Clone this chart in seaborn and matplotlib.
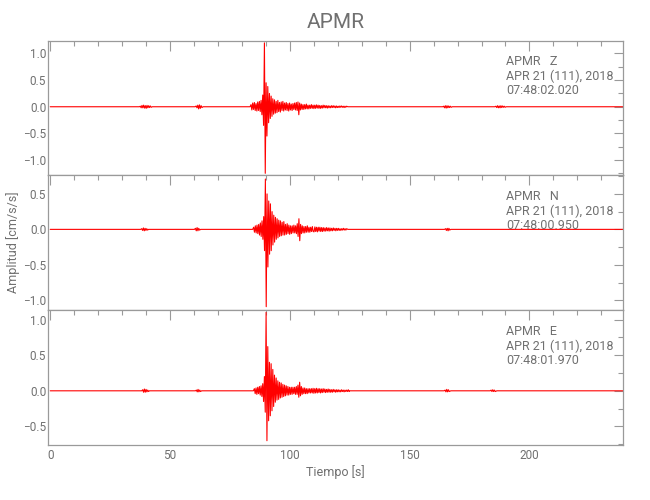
import numpy as np
import pandas as pd
import seaborn as sns
import matplotlib.pyplot as plt
from matplotlib.ticker import MultipleLocator

# Station / component info
STATION = "APMR"
DATE_LABEL = "APR 21 (111), 2018"
components = ["Z", "N", "E"]
start_times = ["07:48:02.020", "07:48:00.950", "07:48:01.970"]
y_limits = [(-1.29, 1.24), (-1.14, 0.76), (-0.76, 1.13)]

# peaks were read every 0.35 s inside each burst
SAMPLE_STEP = 0.35

# ---- Z component ----
z_quiet_t = [0.0, 37.2, 42.6, 60.5, 63.8, 83.4, 124.2, 163.8, 167.8, 185.6, 190.3, 239.5]
z_burst_a = [0.01, -0.02, 0.025, -0.02, 0.03, -0.025, 0.02, -0.03, 0.025, -0.02, 0.02, -0.015, 0.015, -0.01]
z_burst_b = [0.015, -0.02, 0.03, -0.04, 0.035, -0.03, 0.02, -0.015]
z_event = [0.04, -0.06, 0.07, -0.05, 0.08, -0.07, 0.06, -0.08, 0.09, -0.07,
           0.10, -0.09, 0.12, -0.15, 0.22, -0.35, 1.20, -1.25, 0.45, -0.55,
           0.38, -0.30, 0.25, -0.22, 0.20, -0.18, 0.15, -0.14, 0.13, -0.12,
           0.10, -0.11, 0.12, -0.09, 0.08, -0.10, 0.09, -0.07, 0.10, -0.08,
           0.07, -0.06, 0.08, -0.07, 0.06, -0.08, 0.07, -0.06, 0.05, -0.07,
           0.06, -0.05, 0.07, -0.06, 0.08, -0.07, 0.09, -0.15, 0.07, -0.06,
           0.05, -0.05, 0.04, -0.05, 0.04, -0.04, 0.05, -0.04, 0.03, -0.04,
           0.03, -0.03, 0.04, -0.03, 0.03,
           -0.035, 0.03, -0.03, 0.035, -0.025, 0.03, -0.03, 0.025, -0.03, 0.02,
           -0.025, 0.03, -0.02, 0.025, -0.02, 0.02, -0.025, 0.02, -0.02, 0.015,
           -0.02, 0.02, -0.015, 0.02, -0.015, 0.015, -0.02, 0.015, -0.015, 0.01,
           -0.015, 0.015, -0.01, 0.015, -0.01, 0.01, -0.015, 0.01, -0.01, 0.01]
z_burst_c = [0.01, -0.02, 0.02, -0.025, 0.02, -0.02, 0.015, -0.015, 0.01, -0.01]
z_burst_d = [0.01, -0.015, 0.02, -0.02, 0.015, -0.02, 0.02, -0.015, 0.015, -0.01, 0.01, -0.01]
z_segments = [(37.6, z_burst_a), (60.9, z_burst_b), (83.8, z_event),
              (164.2, z_burst_c), (186.0, z_burst_d)]

# ---- N component ----
n_quiet_t = [0.0, 37.8, 41.0, 60.2, 62.8, 84.5, 124.2, 164.6, 167.2, 239.5]
n_burst_a = [0.01, -0.015, 0.02, -0.02, 0.015, -0.015, 0.01, -0.01]
n_burst_b = [0.015, -0.02, 0.025, -0.02, 0.015, -0.01]
n_event = [0.03, -0.04, 0.05, -0.05, 0.06, -0.06, 0.07, -0.08, 0.09, -0.10,
           0.12, -0.14, 0.18, -0.30, 0.71, -1.09, 0.50, -0.53, 0.40, -0.35,
           0.36, -0.30, 0.25, -0.22, 0.20, -0.18, 0.17, -0.14, 0.15, -0.12,
           0.13, -0.10, 0.12, -0.09, 0.10, -0.08, 0.11, -0.08, 0.07, -0.07,
           0.08, -0.06, 0.06, -0.07, 0.05, -0.06, 0.05, -0.05, 0.06, -0.05,
           0.05, -0.06, 0.08, -0.10, 0.15, -0.16, 0.07, -0.06, 0.05, -0.05,
           0.04, -0.05, 0.04, -0.04, 0.05, -0.04, 0.03, -0.04, 0.03, -0.03,
           0.04, -0.03,
           -0.035, 0.035, -0.03, 0.03, -0.035, 0.03, -0.025, 0.03, -0.03, 0.025,
           -0.03, 0.025, -0.025, 0.02, -0.025, 0.025, -0.02, 0.02, -0.025, 0.02,
           -0.02, 0.015, -0.02, 0.02, -0.015, 0.015, -0.02, 0.015, -0.015, 0.015,
           -0.015, 0.01, -0.015, 0.01, -0.01, 0.015, -0.01, 0.01, -0.01, 0.01]
n_burst_c = [0.01, -0.015, 0.015, -0.02, 0.015, -0.01]
n_segments = [(38.2, n_burst_a), (60.6, n_burst_b), (84.9, n_event), (165.0, n_burst_c)]

# ---- E component ----
e_quiet_t = [0.0, 38.2, 41.4, 60.6, 63.2, 84.8, 125.0, 164.4, 167.2, 183.6, 186.4, 239.5]
e_burst_a = [0.015, -0.02, 0.025, -0.02, 0.02, -0.015, 0.01, -0.01]
e_burst_b = [0.01, -0.015, 0.02, -0.015, 0.01, -0.01]
e_event = [0.03, -0.04, 0.04, -0.05, 0.05, -0.04, 0.06, -0.06, 0.07, -0.08,
           0.10, -0.15, 0.20, -0.30, 1.10, -0.70, 0.62, -0.42, 0.40, -0.35,
           0.38, -0.28, 0.30, -0.22, 0.22, -0.16, 0.18, -0.13, 0.14, -0.12,
           0.12, -0.10, 0.11, -0.09, 0.09, -0.08, 0.08, -0.07, 0.07, -0.06,
           0.06, -0.06, 0.05, -0.05, 0.05, -0.05, 0.05, -0.04, 0.05, -0.05,
           0.06, -0.05, 0.08, -0.09, 0.12, -0.07, 0.06, -0.05, 0.04, -0.04,
           0.04, -0.04, 0.03, -0.04, 0.03, -0.03, 0.03, -0.03, 0.03, -0.03,
           0.035, -0.035, 0.03, -0.03, 0.035, -0.03, 0.03, -0.025, 0.03, -0.03,
           0.025, -0.025, 0.03, -0.02, 0.025, -0.025, 0.02, -0.02, 0.025, -0.02,
           0.02, -0.02, 0.015, -0.02, 0.02, -0.015, 0.015, -0.02, 0.015, -0.015,
           0.015, -0.015, 0.01, -0.015, 0.015, -0.01, 0.01, -0.015, 0.01, -0.01,
           0.01, -0.01, 0.015, -0.01]
e_burst_c = [0.01, -0.015, 0.02, -0.015, 0.015, -0.01]
e_burst_d = [0.01, -0.01, 0.015, -0.01, 0.01, -0.01]
e_segments = [(38.6, e_burst_a), (61.0, e_burst_b), (85.2, e_event),
              (164.8, e_burst_c), (184.0, e_burst_d)]


def build_trace(quiet_t, segments):
    # quiet anchors sit on the zero line, bursts are sampled peaks
    t_parts = [np.asarray(quiet_t, dtype=float)]
    a_parts = [np.zeros(len(quiet_t))]
    for onset, vals in segments:
        t_parts.append(onset + SAMPLE_STEP * np.arange(len(vals)))
        a_parts.append(np.asarray(vals, dtype=float))
    df = pd.DataFrame({"t": np.concatenate(t_parts), "a": np.concatenate(a_parts)})
    return df.sort_values("t").reset_index(drop=True)


traces = [build_trace(z_quiet_t, z_segments),
          build_trace(n_quiet_t, n_segments),
          build_trace(e_quiet_t, e_segments)]

sns.set_style("white")
plt.rcParams["font.family"] = ["Roboto", "DejaVu Sans"]

AX_COLOR = "#9a9a9a"
TXT_COLOR = "#707070"

fig = plt.figure(figsize=(6.5, 5), dpi=100)
axes = fig.subplots(3, 1, sharex=True)
fig.subplots_adjust(left=0.0743, right=0.959, top=0.9186, bottom=0.11, hspace=0)

for ax, df, comp, t0, ylim in zip(axes, traces, components, start_times, y_limits):
    sns.lineplot(data=df, x="t", y="a", ax=ax, color="red", linewidth=0.8,
                 estimator=None, legend=False)
    ax.set_xlim(-0.8, 239.2)
    ax.set_ylim(*ylim)
    ax.set_xlabel("")
    ax.set_ylabel("")
    ax.xaxis.set_major_locator(MultipleLocator(50))
    ax.xaxis.set_minor_locator(MultipleLocator(10))
    ax.yaxis.set_major_locator(MultipleLocator(0.5))
    ax.yaxis.set_minor_locator(MultipleLocator(0.25))
    ax.tick_params(which="both", direction="in", top=True, right=True,
                   color=AX_COLOR, labelcolor=TXT_COLOR, labelsize=8.5, width=0.8)
    ax.tick_params(axis="x", which="major", length=7.5, pad=3)
    ax.tick_params(axis="x", which="minor", length=3.8)
    ax.tick_params(axis="y", which="major", length=6.5, pad=1.5)
    ax.tick_params(axis="y", which="minor", length=3.5)
    for sp in ax.spines.values():
        sp.set_color(AX_COLOR)
        sp.set_linewidth(0.9)
    ax.text(0.796, 0.843, f"{STATION}   {comp}", transform=ax.transAxes,
            fontsize=9, color=TXT_COLOR, va="center", ha="left")
    ax.text(0.796, 0.735, DATE_LABEL, transform=ax.transAxes,
            fontsize=9, color=TXT_COLOR, va="center", ha="left")
    ax.text(0.796, 0.627, t0, transform=ax.transAxes,
            fontsize=9, color=TXT_COLOR, va="center", ha="left")

axes[-1].set_xlabel("Tiempo [s]", fontsize=9, color=TXT_COLOR, labelpad=2)
fig.text(0.0205, 0.516, "Amplitud [cm/s/s]", rotation=90, fontsize=9,
         color=TXT_COLOR, ha="center", va="center")
fig.text(0.516, 0.955, STATION, fontsize=15, color=TXT_COLOR,
         ha="center", va="center")

fig.savefig("out.png", dpi=100, facecolor="white")
